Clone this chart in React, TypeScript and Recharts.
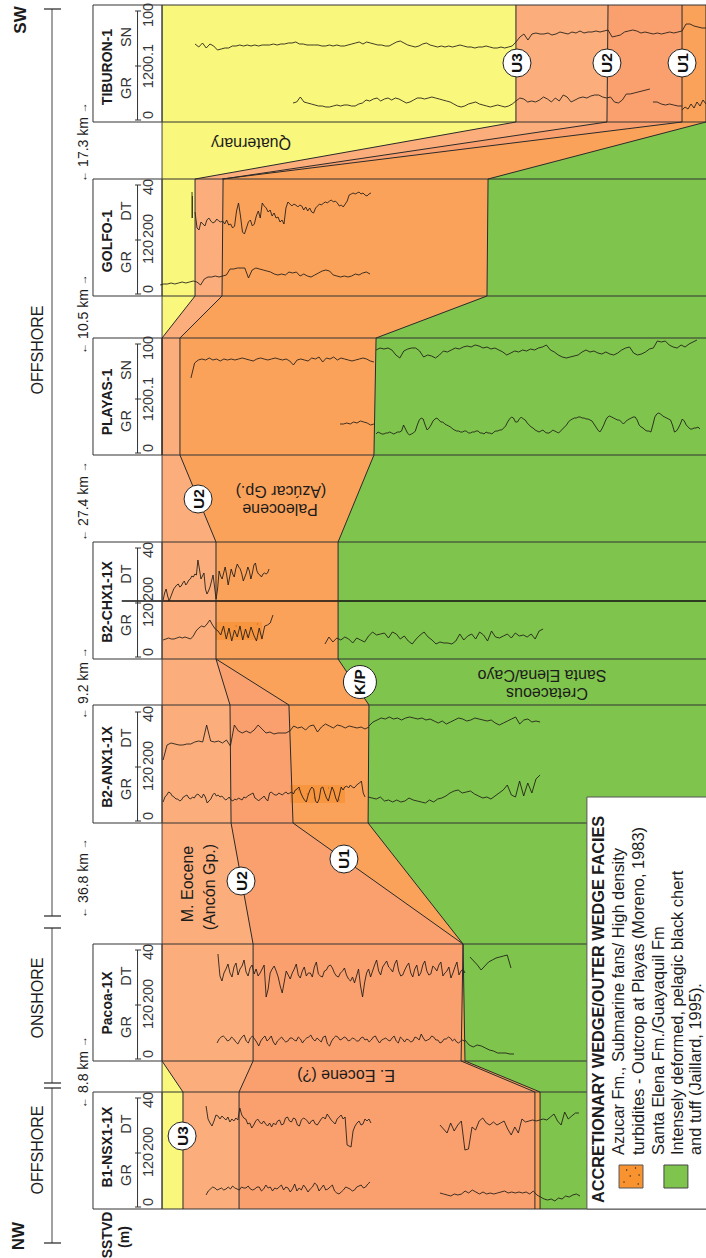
import React from "react";
import { ScatterChart, Scatter, XAxis, YAxis } from "recharts";

const FONT = "'Liberation Sans', Arial, sans-serif";
const YELLOW = "#F9F77C";
const LIGHT = "#FBAE7B";
const MEDIUM = "#FAA06E";
const PALEO = "#FBA25A";
const GREEN = "#7FC44C";
const LINE = "#2a2a2a";

// along-section stations of the well tops and bases
const stations = [5, 122, 179, 296, 338, 455, 542, 659, 705, 823, 944, 1061, 1092, 1209];
// horizon depths (m) at each station
const kpDepth = [3127, 3127, 1899, 1893, 1268, 1256, 1054, 1054, 1228, 1223, 1758, 1769, 2192, 2192];
const u1Depth = [2992, 2992, 400, 400, 163, 163, 366, 366, 777, 800, 1758, 1747, 2163, 2163];
const u2Depth = [2575, 2569, 406, 400, 163, 163, 366, 366, 445, 451, 575, 575, 496, 496];
const u3UpperDepth = [2056, 2056, 248, 248, 62, 62];
const u3LowerStations = [1061, 1092, 1209];
const u3LowerDepth = [62, 180, 180];

const depthTicks = [200, 1000, 2000, 3000];

const wellNames = ["TIBURON-1", "GOLFO-1", "PLAYAS-1", "B2-CHX1-1X", "B2-ANX1-1X", "Pacoa-1X", "B1-NSX1-1X"];
const wellTops = [5, 179, 338, 542, 705, 944, 1092];
const wellBases = [122, 296, 455, 659, 823, 1061, 1209];
const wellNameCentres = [67, 241, 402, 602, 767, 1003, 1147];
const secondCurve = ["SN", "DT", "SN", "DT", "DT", "DT", "DT"];

const distanceLabels = ["17.3 km", "10.5 km", "27.4 km", "9.2 km", "36.8 km", "8.8 km"];
const distanceCentres = [142, 314, 501, 683, 878, 1072];

// log traces: offset of the curve inside each well track, sampled along depth
const b1Dt1 = [103,90,86,83,88,94,93,90,93,91,89,92,87,90,88,91,89,101,94,91,90,85,86,81,84,88,90,87,85,88,85,83,86,82,86,84,88,89,84,85,91,92,88,87,91,90,84,83,89,91,90,88,85,88,89,85,84,87,90,92,90,95,92,89,87,85,90,92,94,90,92,64,63,62,78,83,86,88,84,85,90,88,90,86];
const b1Dt2 = [84,80,76,86,78,84,88,59,60,82,79,88,91,86,84,87,84,86,88,80,74,82,76,90,87,88,89,88,89,90,89,92,95,88,84,97,90,93,96,96];
const b1Gr1 = [14,18,20,22,21,19,20,21,19,20,22,20,23,21,20,19,22,21,21,23,20,19,20,22,22,18,20,24,21,22,18,21,20,22,24,19,22,21,17,20,25,18,21,19,24,21,17,20,22,26,24,18,21,24,19,20,22,24,18,16,15,17,19,22,21,20,18,19,22,23,24,21,22,25,27];
const b1Gr2 = [16,15,14,13,15,14,15,18,16,19,17,15,17,15,16,15,16,17,18,16,17,16,17,16,17,15,18,14,12,10,9,10,8,11,10,13,12,14,15,13];
const pacoaDt1 = [107,85,80,88,92,97,88,84,94,98,86,92,95,101,89,85,93,96,87,92,85,88,92,96,64,72,88,92,95,90,84,75,68,79,90,86,82,88,92,97,86,83,90,94,85,88,88,84,94,99,87,85,84,90,91,95,96,93,88,85,84,88,90,93,86,82,80,84,78,85,92,75,64,78,88,92,84,90,96,101,90,86,94,97,100,94,92,89,97,101,90,85,86,91,95,98,88,84,92,96,85,88,96,100,90,86,87,95,93,90,96,99,85,88,90,94,83,88,94,99,86,90,92,88];
const pacoaDt2 = [104,100,96,91,95,99,101,103,104,105,106,93];
const pacoaGr1 = [18,22,24,25,23,20,21,24,22,19,17,21,24,26,20,18,23,25,22,19,15,20,23,25,20,22,25,19,16,20,22,24,21,19,20,23,23,21,20,24,22,18,21,23,24,26,22,20,23,21,19,24,25,17,15,20,23,25,24,21,22,24,23,20,21,23,22,20,20,23,24,21,22,19,21,24,25,21,18,21,22,23,21,20,23,25,20,18,24,22,19,22,21,19,20,24,23,21,27,23,20,21,22,25,24,21,21,18,19,22,22,24,23,20,22,19,18,20,21,19];
const pacoaGr2 = [21,16,14,16,15,13,11,10,8,8,8,7,7];
const anxDt1 = [63,78,80,79,78,78,79,79,81,82,81,98,82,81,82,80,83,77,98,92,90,92,90,93,98,94,90,91,89,90,90,90,92,97,95,96,93,97,98,91,96,99,97,95,98,97,95,97,96,95,96,94,96];
const anxDt2 = [97,101,103,105,104,106,104,105,103,105,106,105,104,105,103,104,102,100,102,99,101,103,105,104,102,103,105,104,103,102,103,100,98,100,102,104,106,99,103,104,101,102,101];
const anxGr1 = [21,26,28,31,30,27,26,24,24,22,23,26,27,28,25,24,26,25,28,29,27,25,29,26,20,22,24,28,30,27,28,26,27,25,23,24,26,23,22,24,23,25,24,23,26,25,27,28,29,30,25,24,22,24,25,27,24,22,30,31,29,28,28,30,29,28,30,31,29,30,31,29,33,34,36,30,26,23,21,28,33,36,34,22,20,24,35,36,30,25,22,29,36,32,25,21,28,36,33,36,37,35,38,36,35,37,39,40,42,30,26];
const anxGr2 = [26,25,24,26,22,23,21,23,21,22,25,23,22,21,20,23,21,24,25,27,30,32,33,30,31,32,29,27,25,26,24,27,30,33,38,28,26,42,27,40,30,44,48];
const chxDt = [59,66,70,63,58,62,66,70,72,74,75,72,73,76,78,74,76,79,80,83,82,85,84,99,90,80,83,86,70,65,68,72,78,84,72,60,70,88,83,80,86,92,84,74,82,90,85,82,90,95,92,90,85,78,82,86,92,88,80,86,94,96,88,85,84,82,85,86,85,86,90];
const chxGr1 = [19,20,21,20,20,21,22,21,22,21,20,23,28,31,33,32,35,39,34,30,28,24,33,20,31,18,29,22,33,19,30,21,32,24,18,31,20,33,34,36,44];
const chxGr2 = [15,22,17,21,19,22,20,16,21,19,17,23,27,24,25,26,21,27,25,20,23,18,15,20,24,27,22,19,15,17,16,16,15,18,25,19,23,25,20,27,24,18,28,22,21,23,25,21,26,23,24,22,25,20,28,30];
const playasSn1 = [77,92,95,96,95,97,95,96,94,96,95,96,95,96,97,96,95,94,96,97,96,95,96,97,96,95,96,94,90,95,96,95,94,97,96,98,93,97,96,98,95,97,96,95,94,95,96,97,96,94,93];
const playasSn2 = [105,107,106,107,105,100,97,104,106,107,107,104,98,100,99,97,100,104,103,105,107,106,108,109,108,110,109,107,108,106,107,105,103,100,102,104,103,105,104,106,105,107,108,110,105,103,100,98,97,98,99,100,103,105,103,104,102,101,103,101,100,102,105,107,108,102,100,101,103,106,107,114,113,114,110,108,107,110,108,111,113,115];
const playasGr1 = [31,31,32,31,33,32,34,33,32,30,31];
const playasGr2 = [21,23,22,21,21,22,22,23,22,21,22,23,23,24,30,26,22,20,21,22,24,30,35,37,36,30,25,27,30,34,36,37,35,33,33,31,30,29,28,26,25,24,24,23,23,24,24,22,22,23,23,24,24,22,22,21,23,22,22,21,23,24,24,25,25,27,29,33,36,38,37,33,33,36,38,36,35,32,30,28,27,25,24,23,24,25,23,22,22,23,25,24,23,22,24,26,28,30,33,35,36,37,37,38,38,37,37,36,36,35,34,31,28,25,23,26,30,35,38,39,38,37,36,35,35,33,31,33,35,36,37,38,38,35,30,28,27,25,24,24,23,30,38,41,42,41,39,38,37,36,35,30,23,24,27,31,36,34,30,28,26,26,27,27,28,26];
const golfoDtShallow = [104,78,100];
const golfoDt = [84,68,66,74,72,70,76,78,75,73,74,77,75,74,75,72,76,71,72,68,70,85,93,80,64,62,68,74,76,70,72,80,85,78,93,90,88,84,86,80,83,78,79,74,76,72,88,94,92,90,92,91,89,91,90,86,89,85,88,84,83,88,90,92,91,93,94,93,95,96,94,95,93,90,91,89,92,95,101,102,103,102,103,104,102,103,101,100,102,103];
const golfoGr = [11,12,12,13,12,13,14,13,14,15,14,11,17,19,19,20,19,20,21,27,27,28,28,28,18,26,28,27,26,25,24,22,21,22,21,24,23,24,20,22,20,19,21,23,25,26,25,21,20,19,20,19,20,22,21,23,24,22];
const tibSn1 = [78,75,79,74,78,76,72,73,74,74,76,76,77,76,77,76,77,76,77,77,77,78,77,78,78,79,79,80,78,78,77,77,77,77,76,76,77,76,77,76,76,77,78,79,80,78,80,79,78,77,77,76,76,78,80,81,79,77,76,75,76,78,79,77,76,75,76,75,76,75,76,77,76,75,75,74,75,75,76,75,74,74,75,74,75,76,80];
const tibSn2 = [80,85,88,82,88,89,88,88,89,87,88,90,89,88,90,89,91,89,90,90,91,90,91,92];
const tibSn3 = [92,85,86,87,90,91,92,91,89,90,89,88,89,88,89,90,89,90,91];
const tibSn4 = [91,98,98,96,95,94,94];
const tibGr1 = [19,20,25,20,19,18,17,16,16,15,15,16,17,16,17,17,16,16,18,19,22,21,23,24,21,23,24,22,24,23,21,19,20,22,24,24,23,24,25,24,23,22,21,20,18,16,15,16,18,19,20,18,17,16,15,16,17,16,15,16,18,21];
const tibGr2 = [21,24,23,20,21,20,22,25,23,20,24,21,27,25,20,22,24,25,24,26,27,27,25,24,25,20,19,22,28,28,29,30,31,32,33];
const tibGr3 = [20,20,18,17,18,17,16,16];
const tibGr4 = [12,15,13,18,14,20,16,22,18];

const line = (ss: number[], ds: number[]) => ss.map((s, i) => ({ s, d: ds[i] }));
const closed = (pts: any[]) => [...pts, pts[0]];
const trace = (base: number, d0: number, d1: number, vals: number[]) =>
  vals.map((v, i) => ({ s: base - v, d: d0 + ((d1 - d0) * i) / (vals.length - 1) }));
const rect = (s0: number, s1: number, d0: number, d1: number) =>
  closed([{ s: s0, d: d0 }, { s: s1, d: d0 }, { s: s1, d: d1 }, { s: s0, d: d1 }]);

const LEFT = 62;
const RIGHT = 3127;
const HEAD = -327;

const kp = line(stations, kpDepth);
const u1 = line(stations, u1Depth);
const u2 = line(stations, u2Depth);
const u3a = line(stations.slice(0, 6), u3UpperDepth);
const u3b = line(u3LowerStations, u3LowerDepth);
const edge = [{ s: 1209, d: LEFT }, { s: 5, d: LEFT }];
const frame = (h: any[]) => closed([...h, ...edge]);

const fills = [
  { pts: rect(5, 1209, LEFT, RIGHT), fill: GREEN },
  { pts: closed([{ s: 5, d: RIGHT }, ...kp, ...edge]), fill: PALEO },
  { pts: frame(u1), fill: MEDIUM },
  { pts: frame(u2), fill: LIGHT },
  { pts: closed([...u3a, { s: 5, d: LEFT }]), fill: YELLOW },
  { pts: closed([...u3b, { s: 1209, d: LEFT }]), fill: YELLOW },
  { pts: rect(622, 640, 366, 625), fill: "#F58B2A", op: 0.55 },
  { pts: rect(785, 803, 783, 1093), fill: "#F58B2A", op: 0.55 },
];

const traces = [
  trace(1209, 310, 1239, b1Dt1), trace(1209, 1628, 2411, b1Dt2),
  trace(1209, 310, 1234, b1Gr1), trace(1209, 1628, 2417, b1Gr2),
  trace(1061, 377, 1769, pacoaDt1), trace(1061, 1797, 2028, pacoaDt2),
  trace(1061, 372, 1769, pacoaGr1), trace(1061, 1769, 2045, pacoaGr2),
  trace(823, 68, 1228, anxDt1), trace(823, 1228, 2192, anxDt2),
  trace(823, 68, 1206, anxGr1), trace(823, 1223, 2192, anxGr2),
  trace(659, 68, 665, chxDt), trace(659, 68, 687, chxGr1), trace(659, 980, 2209, chxGr2),
  trace(455, 225, 1256, playasSn1), trace(455, 1268, 3076, playasSn2),
  trace(455, 1065, 1256, playasGr1), trace(455, 1268, 3093, playasGr2),
  trace(296, 231, 233, golfoDtShallow), trace(296, 248, 1239, golfoDt), trace(296, 51, 1234, golfoGr),
  trace(122, 248, 2056, tibSn1), trace(122, 2056, 2575, tibSn2), trace(122, 2575, 2992, tibSn3), trace(122, 2992, 3127, tibSn4),
  trace(122, 800, 2056, tibGr1), trace(122, 2056, 2811, tibGr2), trace(122, 2828, 2992, tibGr3), trace(122, 2992, 3127, tibGr4),
];

// Texts placed in the chart's data space
const Label = (p: any) => {
  const n = p.payload;
  const { cx, cy } = p;
  return (
    <text
      x={cx}
      y={cy}
      fontFamily={FONT}
      fontSize={n.size ?? 14}
      fontWeight={n.bold ? 700 : 400}
      fill={n.color ?? "#1c1c1c"}
      textAnchor={n.anchor ?? "middle"}
      dominantBaseline="central"
      transform={n.flip ? `rotate(-90 ${cx} ${cy})` : undefined}
    >
      {n.arrows ? (
        <>
          <tspan fontSize={11}>{"\u2190"}</tspan>
          {" " + n.text + " "}
          <tspan fontSize={11}>{"\u2192"}</tspan>
        </>
      ) : (
        n.text
      )}
    </text>
  );
};
const Marker = (p: any) => {
  const n = p.payload;
  return (
    <g>
      <circle cx={p.cx} cy={p.cy} r={n.r ?? 14} fill="#fff" stroke="#222" strokeWidth={1} />
      <text x={p.cx} y={p.cy} fontFamily={FONT} fontSize={15.5} fontWeight={700} fill="#111" textAnchor="middle" dominantBaseline="central">
        {n.text}
      </text>
    </g>
  );
};
const Speck = (p: any) => <circle cx={p.cx} cy={p.cy} r={0.7} fill={p.payload.color ?? "#222"} />;
const NoDot = () => null;

const labels: any[] = [
  { s: 1236, d: -744, text: "NW", bold: true, size: 17 },
  { s: 20, d: -738, text: "SW", bold: true, size: 17 },
  { s: 1235, d: -248, text: "SSTVD", bold: true, size: 14 },
  { s: 1237, d: -152, text: "(m)", bold: true, size: 14 },
  { s: 1150, d: -637, text: "OFFSHORE", size: 16 },
  { s: 998, d: -637, text: "ONSHORE", size: 16 },
  { s: 350, d: -637, text: "OFFSHORE", size: 16 },
  { s: 1075, d: 1099, text: "E. Eocene (?)", size: 16, flip: true },
  { s: 509, d: 727, text: "Paleocene", size: 16, flip: true },
  { s: 491, d: 732, text: "(Az\u00facar Gp.)", size: 16, flip: true },
  { s: 675, d: 2203, text: "Santa Elena/Cayo", size: 16, flip: true },
  { s: 693, d: 2231, text: "Cretaceous", size: 16, flip: true },
  { s: 143, d: 563, text: "Quaternary", size: 16, flip: true },
  { s: 884, d: 208, text: "M. Eocene", size: 16 },
  { s: 887, d: 332, text: "(Anc\u00f3n Gp.)", size: 16 },
];
distanceLabels.forEach((text, i) => labels.push({ s: distanceCentres[i], d: -383, text, size: 14, arrows: true }));
wellNames.forEach((text, i) => {
  const b = wellBases[i];
  const sn = secondCurve[i] === "SN";
  labels.push({ s: wellNameCentres[i], d: -248, text, bold: true, size: 14 });
  labels.push({ s: b - 34, d: -141, text: "GR", size: 14.5, color: "#333" });
  labels.push({ s: b - 85, d: -141, text: secondCurve[i], size: 14.5, color: "#333" });
  labels.push({ s: b - 7, d: -17, text: "0", size: 14.5, color: "#333" });
  if (sn) {
    labels.push({ s: b - 56, d: -17, text: "1200.1", size: 14.5, color: "#333" });
    labels.push({ s: b - 107, d: -17, text: "100", size: 14.5, color: "#333" });
  } else {
    labels.push({ s: b - 44, d: -17, text: "120", size: 14.5, color: "#333" });
    labels.push({ s: b - 70, d: -17, text: "200", size: 14.5, color: "#333" });
    labels.push({ s: b - 109, d: -17, text: "40", size: 14.5, color: "#333" });
  }
});

const markers = [
  { s: 1136, d: 175, text: "U3" },
  { s: 881, d: 507, text: "U2" },
  { s: 859, d: 1087, text: "U1" },
  { s: 682, d: 1177, text: "K/P", r: 16.5 },
  { s: 499, d: 265, text: "U2" },
  { s: 63, d: 2062, text: "U3" },
  { s: 63, d: 2569, text: "U2" },
  { s: 63, d: 2992, text: "U1" },
];

const legendLabels = [
  { s: 1203, d: 2518, text: "ACCRETIONARY WEDGE/OUTER WEDGE FACIES", bold: true, size: 16.3, anchor: "start" },
  { s: 1155, d: 2631, text: "Azucar Fm., Submarine fans/ High density", size: 16.4, anchor: "start" },
  { s: 1155, d: 2744, text: "turbidites - Outcrop at Playas (Moreno, 1983)", size: 16.4, anchor: "start" },
  { s: 1155, d: 2856, text: "Santa Elena Fm./Guayaquil Fm", size: 16.4, anchor: "start" },
  { s: 1155, d: 2963, text: "Intensely deformed, pelagic black chert", size: 16.4, anchor: "start" },
  { s: 1155, d: 3065, text: "and tuff (Jaillard, 1995).", size: 16.4, anchor: "start" },
];

const faciesSpecks = [
  { s: 1170, d: 2680 }, { s: 1182, d: 2665 }, { s: 1176, d: 2700 }, { s: 1168, d: 2730 }, { s: 1184, d: 2745 }, { s: 1175, d: 2750 },
];
const wellSpecks = [
  { s: 630, d: 400 }, { s: 626, d: 480 }, { s: 636, d: 540 }, { s: 624, d: 600 }, { s: 633, d: 440 },
  { s: 790, d: 830 }, { s: 798, d: 920 }, { s: 788, d: 1000 }, { s: 800, d: 1060 }, { s: 794, d: 880 },
].map((x) => ({ ...x, color: "#D96A10" }));

const DepthTick = (p: any) => (
  <text x={12} y={p.y} fontFamily={FONT} fontSize={14} fontWeight={700} fill="#222" textAnchor="start" dominantBaseline="central">
    {p.payload.value}
  </text>
);

const poly = (pts: any[], fill: string, stroke: string, sw: number, key: string, op?: number) => (
  <Scatter
    key={key}
    data={pts}
    shape={NoDot}
    isAnimationActive={false}
    lineType="joint"
    line={{ fill, fillOpacity: op ?? 1, stroke, strokeWidth: sw }}
  />
);
const path = (pts: any[], stroke: string, sw: number, key: string) => poly(pts, "none", stroke, sw, key);

export default function App() {
  return (
    <div style={{ position: "fixed", top: 0, left: 0, width: 706, height: 1258, overflow: "hidden", background: "#fff" }}>
      <div style={{ width: 1258, height: 706, transformOrigin: "0 0", transform: "translate(0px, 1258px) rotate(-90deg)" }}>
        <ScatterChart width={1258} height={706} margin={{ top: 0, right: 0, bottom: 0, left: 0 }}>
          <XAxis type="number" dataKey="s" domain={[0, 1258]} reversed hide allowDataOverflow />
          <YAxis
            type="number"
            dataKey="d"
            domain={[-851, 3127]}
            reversed
            mirror
            width={0}
            allowDataOverflow
            ticks={depthTicks}
            axisLine={false}
            tickLine={false}
            tick={DepthTick}
            interval={0}
          />
          {fills.map((f, i) => poly(f.pts, f.fill, "none", 0, "fill" + i, f.op))}
          <Scatter data={wellSpecks} shape={Speck} isAnimationActive={false} />
          {wellNames.map((_, i) => poly(rect(wellTops[i], wellBases[i], HEAD, LEFT), "#fff", "#333", 1, "head" + i))}
          {wellNames.flatMap((_, i) => [
            path([{ s: wellTops[i], d: LEFT }, { s: wellTops[i], d: RIGHT }], "#333", 1, "top" + i),
            path([{ s: wellBases[i], d: LEFT }, { s: wellBases[i], d: RIGHT }], "#333", 1, "base" + i),
          ])}
          {path([{ s: 601, d: -165 }, { s: 601, d: RIGHT }], "#111", 1.4, "mid")}
          {path(edge, "#444", 1, "edge")}
          {traces.map((t, i) => path(t, "#1d1a16", 0.85, "log" + i))}
          {path(kp, LINE, 1, "kp")}
          {path(u1.slice(0, 3), LINE, 1, "u1a")}
          {path(u1.slice(7), LINE, 1, "u1b")}
          {path(u2, LINE, 1, "u2")}
          {path(u3a, LINE, 1, "u3a")}
          {path(u3b, LINE, 1, "u3b")}
          {wellNames.flatMap((_, i) => {
            const b = wellBases[i];
            return [
              path([{ s: b - 2, d: -76 }, { s: b - 111, d: -76 }], "#333", 1, "bar" + i),
              path([{ s: b - 2, d: -90 }, { s: b - 2, d: -56 }], "#333", 1, "barA" + i),
              path([{ s: b - 56, d: -90 }, { s: b - 56, d: -56 }], "#333", 1, "barB" + i),
              path([{ s: b - 111, d: -90 }, { s: b - 111, d: -56 }], "#333", 1, "barC" + i),
            ];
          })}
          {path([{ s: 9, d: -558 }, { s: 916, d: -558 }], "#444", 1, "sec1")}
          {path([{ s: 928, d: -558 }, { s: 1083, d: -558 }], "#444", 1, "sec2")}
          {path([{ s: 1088, d: -558 }, { s: 1243, d: -558 }], "#444", 1, "sec3")}
          {[9, 916, 928, 1083, 1088, 1243].map((s) => path([{ s, d: -603 }, { s, d: -507 }], "#222", 1.2, "tick" + s))}
          <Scatter data={markers} shape={Marker} isAnimationActive={false} />
          <Scatter data={labels} shape={Label} isAnimationActive={false} />
          {poly(rect(797, 1209, 2456, 3200), "#fff", "#555", 1, "legend")}
          {poly(rect(1165, 1188, 2637, 2772), "#F9932F", "#555", 1, "sw1")}
          {poly(rect(1165, 1188, 2890, 3025), GREEN, "#444", 1, "sw2")}
          <Scatter data={faciesSpecks} shape={Speck} isAnimationActive={false} />
          <Scatter data={legendLabels} shape={Label} isAnimationActive={false} />
        </ScatterChart>
      </div>
    </div>
  );
}
